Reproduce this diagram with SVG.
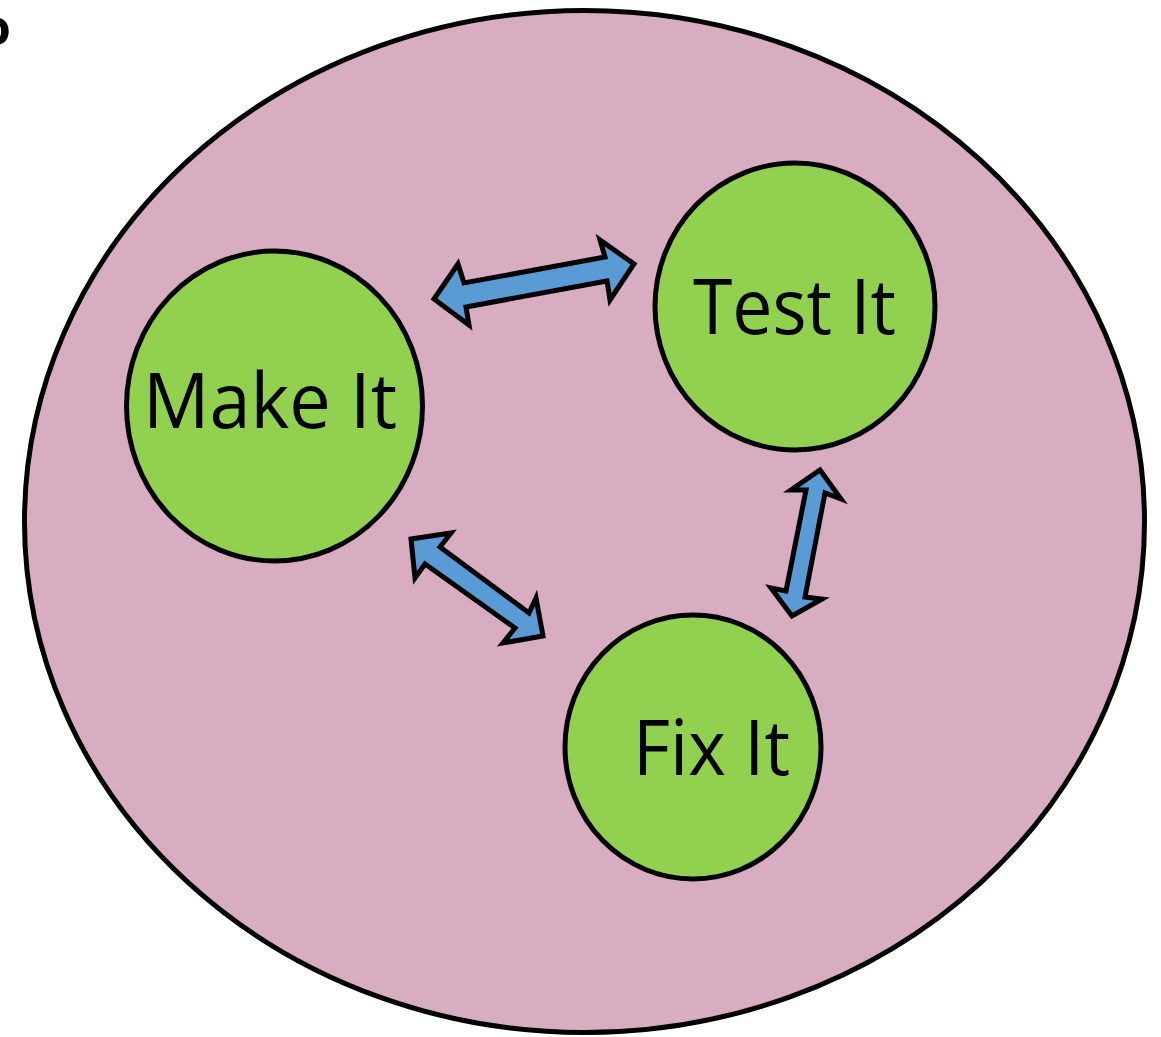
<svg xmlns="http://www.w3.org/2000/svg" width="1161" height="1037" viewBox="0 0 1161 1037">
  <style>
    .outline { stroke: #000; stroke-width: 5; }
    .step { fill: #92D050; }
    .link { fill: #5B9BD5; stroke: #000; stroke-width: 5; stroke-linejoin: miter; }
    .label { font-family: "Open Sans", "Liberation Sans", sans-serif; font-size: 76px; fill: #000; }
  </style>
  <rect width="1161" height="1037" fill="#FFFFFF"/>
  <!-- partial glyph at the left edge -->
  <text x="-20" y="45" font-family="Open Sans, sans-serif" font-weight="bold" font-size="50" fill="#000">o</text>

  <!-- enclosing cycle -->
  <g id="cycle">
    <ellipse cx="584.5" cy="521.5" rx="560" ry="511" fill="#D8ADC2" class="outline"/>
  </g>

  <g id="make-it">
    <ellipse cx="274.5" cy="406" rx="148" ry="155" class="step outline"/>
    <text class="label" x="143" y="428" textLength="254" lengthAdjust="spacingAndGlyphs">Make It</text>
  </g>

  <g id="test-it">
    <ellipse cx="795" cy="306.5" rx="140" ry="143.5" class="step outline"/>
    <text class="label" x="693" y="334" textLength="203" lengthAdjust="spacingAndGlyphs">Test It</text>
  </g>

  <g id="fix-it">
    <ellipse cx="693" cy="747" rx="128" ry="132" class="step outline"/>
    <text class="label" x="633" y="775" textLength="157" lengthAdjust="spacingAndGlyphs">Fix It</text>
  </g>

  <g id="connectors">
    <!-- Make It <-> Test It -->
    <polygon class="link" points="434,299 458,264 464,283 605,257 600,240 634,264 610,300 607,281 466,307 469,325"/>
    <!-- Make It <-> Fix It -->
    <polygon class="link" points="411,539 451,533 440,547 529,613 536,598 543,636 503,643 515,628 425,564 415,578"/>
    <!-- Test It <-> Fix It -->
    <polygon class="link" points="820,470 841,499 825,493 805,597 822,599 792,616 771,588 786,591 806,490 791,490"/>
  </g>
</svg>
